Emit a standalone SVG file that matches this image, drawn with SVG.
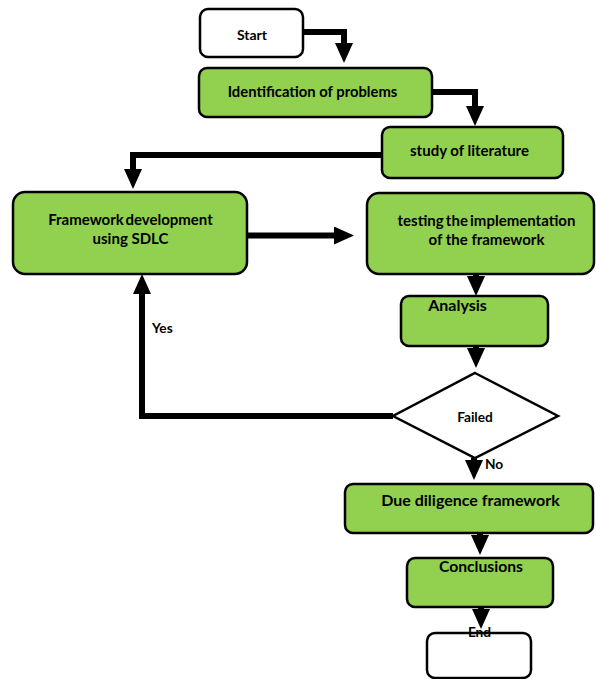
<svg xmlns="http://www.w3.org/2000/svg" width="596" height="679" viewBox="0 0 596 679">
<style>
.box{fill:#92D050;stroke:#000;stroke-width:2.5}
.term{fill:#fff;stroke:#000;stroke-width:2.5}
.t{font-family:Lato,"Liberation Sans",sans-serif;font-weight:bold;fill:#000;text-anchor:middle}
.l{font-family:Lato,"Liberation Sans",sans-serif;font-weight:bold;fill:#000}
.c{fill:none;stroke:#000;stroke-width:6;stroke-linejoin:miter;marker-end:url(#ah)}
</style>
<defs>
<marker id="ah" markerUnits="userSpaceOnUse" viewBox="0 0 20 18" markerWidth="20" markerHeight="18" refX="0" refY="9" orient="auto">
<path d="M0,0 L20,9 L0,18 z" fill="#000"/>
</marker>
</defs>
<rect x="0" y="0" width="596" height="679" fill="#fff"/>
<g id="connectors">
<path class="c" d="M303,32 H344 V43"/>
<path class="c" d="M432,92 H475 V106"/>
<path class="c" d="M382,155 H133 V169"/>
<path class="c" d="M247,235.5 H334"/>
<path class="c" d="M476,275 V276"/>
<path class="c" d="M476,346 V348"/>
<path class="c" d="M474,458 V460"/>
<path class="c" d="M480,533 V535"/>
<path class="c" d="M481,607 V609"/>
<path class="c" d="M393,416 H142 V294"/>
</g>
<g id="start"><rect class="term" x="200" y="9" width="103" height="48" rx="8"/><text class="t" x="252" y="40" font-size="14">Start</text></g>
<g id="identification"><rect class="box" x="199" y="68" width="233" height="49" rx="8"/><text class="t" x="312.5" y="97" font-size="14.8">Identification of problems</text></g>
<g id="study"><rect class="box" x="382" y="127" width="181" height="51" rx="8"/><text class="t" x="469.5" y="156" font-size="15">study of literature</text></g>
<g id="framework"><rect class="box" x="13" y="192" width="234" height="82" rx="12"/><text class="t" x="130.5" y="225" font-size="15" word-spacing="-2">Framework development</text><text class="t" x="130.5" y="244" font-size="15">using SDLC</text></g>
<g id="testing"><rect class="box" x="367" y="193" width="227" height="81" rx="12"/><text class="t" x="486.5" y="226" font-size="15" word-spacing="-1.5">testing the implementation</text><text class="t" x="486.5" y="245" font-size="15">of the framework</text></g>
<g id="analysis"><rect class="box" x="401" y="296" width="147" height="50" rx="8"/><text class="t" x="457.5" y="311" font-size="16">Analysis</text></g>
<g id="failed"><polygon points="475,373 558,416 475,458 393,416" fill="#fff" stroke="#000" stroke-width="2.5"/><text class="t" x="475" y="422" font-size="13.7">Failed</text></g>
<g id="due"><rect class="box" x="345" y="484" width="248" height="49" rx="8"/><text class="t" x="470.5" y="506" font-size="16">Due diligence framework</text></g>
<g id="conclusions"><rect class="box" x="407" y="558" width="146" height="49" rx="8"/><text class="t" x="481" y="572" font-size="15.7">Conclusions</text></g>
<g id="end"><rect class="term" x="427" y="633" width="104" height="45" rx="8"/><text class="t" x="479.5" y="637" font-size="13.7">End</text></g>
<g id="labels"><text class="l" x="152" y="333" font-size="13.7">Yes</text><text class="l" x="485" y="469" font-size="13.7">No</text></g>
</svg>
